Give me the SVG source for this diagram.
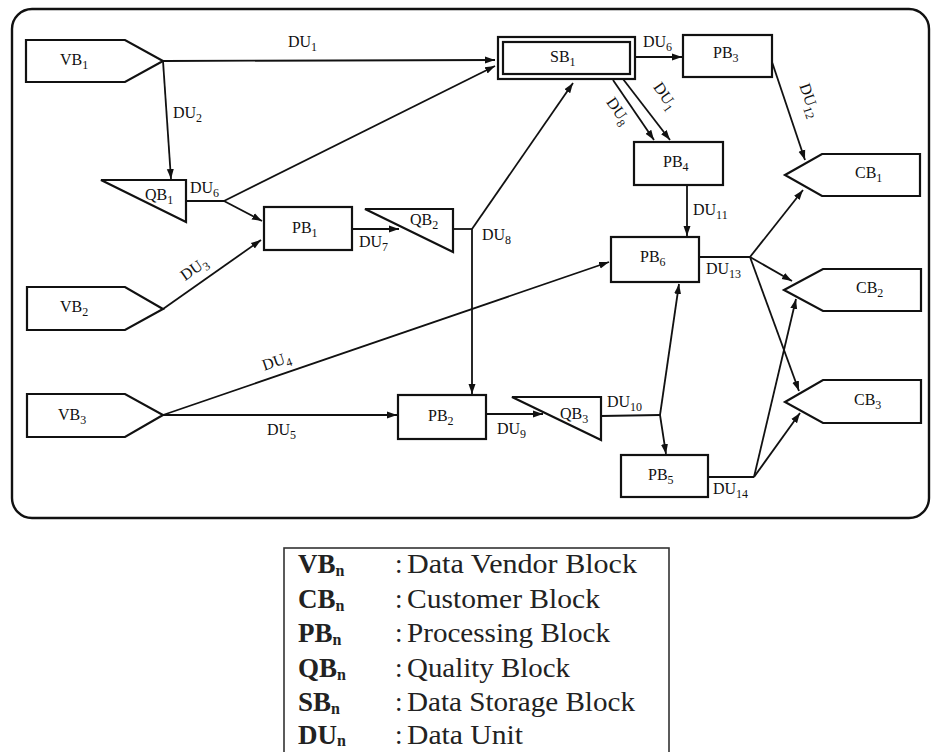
<svg xmlns="http://www.w3.org/2000/svg" width="932" height="752" viewBox="0 0 932 752">
<defs>
<marker id="ah" viewBox="0 0 10 10" refX="10" refY="5" markerWidth="10" markerHeight="10" markerUnits="userSpaceOnUse" orient="auto">
<path d="M0,1.5 L10,5 L0,8.5 Z" fill="#111"/>
</marker>
</defs>
<style>
.shape{fill:#fff;stroke:#111;stroke-width:2.2;stroke-linejoin:miter}
.lbl{font-family:"Liberation Serif","Times New Roman",serif;font-size:16px;fill:#111}
.sub{font-size:12px}
.conn line,.conn polyline{stroke:#111;stroke-width:1.8;fill:none}
.arr{marker-end:url(#ah)}
.leg{font-family:"Liberation Serif","Times New Roman",serif;font-size:27px;fill:#222}
.legb{font-weight:bold}
</style>
<rect width="932" height="752" fill="#fff"/>
<rect x="12" y="9" width="917" height="509" rx="20" fill="none" stroke="#111" stroke-width="2.4"/>

<g class="conn" id="connectors">
<line class="arr" x1="163" y1="61" x2="495" y2="60"/>
<line class="arr" x1="163" y1="61" x2="171" y2="179"/>
<polyline points="186,201 224,201"/>
<line class="arr" x1="224" y1="201" x2="495" y2="66"/>
<line class="arr" x1="224" y1="201" x2="262" y2="221"/>
<line class="arr" x1="163" y1="309" x2="261" y2="240"/>
<line class="arr" x1="352" y1="229" x2="399" y2="229"/>
<polyline points="453,229 472,229"/>
<line class="arr" x1="472" y1="229" x2="472" y2="394"/>
<line class="arr" x1="472" y1="229" x2="573" y2="83"/>
<line class="arr" x1="163" y1="415" x2="609" y2="262"/>
<line class="arr" x1="163" y1="415" x2="397" y2="415"/>
<line class="arr" x1="486" y1="414" x2="543" y2="414"/>
<polyline points="601,416 660,415"/>
<line class="arr" x1="660" y1="415" x2="679" y2="284"/>
<line class="arr" x1="660" y1="415" x2="666" y2="454"/>
<line class="arr" x1="635" y1="57" x2="682" y2="57"/>
<line class="arr" x1="613" y1="80" x2="654" y2="140"/>
<line class="arr" x1="623" y1="79" x2="670" y2="140"/>
<line class="arr" x1="772" y1="62" x2="805" y2="160"/>
<line class="arr" x1="687" y1="185" x2="687" y2="236"/>
<polyline points="699,257 750,257"/>
<line class="arr" x1="750" y1="257" x2="803" y2="190"/>
<line class="arr" x1="750" y1="257" x2="792" y2="281"/>
<line class="arr" x1="750" y1="257" x2="799" y2="391"/>
<polyline points="708,477 754,477"/>
<line class="arr" x1="754" y1="477" x2="796" y2="299"/>
<line class="arr" x1="754" y1="477" x2="800" y2="413"/>

<text class="lbl" x="288" y="47">DU<tspan class="sub" dy="4">1</tspan></text>
<text class="lbl" x="173" y="118">DU<tspan class="sub" dy="4">2</tspan></text>
<text class="lbl" x="190" y="193">DU<tspan class="sub" dy="4">6</tspan></text>
<text class="lbl" text-anchor="middle" transform="translate(197,273) rotate(-35)">DU<tspan class="sub" dy="4">3</tspan></text>
<text class="lbl" text-anchor="middle" transform="translate(278,366) rotate(-19)">DU<tspan class="sub" dy="4">4</tspan></text>
<text class="lbl" x="267" y="435">DU<tspan class="sub" dy="4">5</tspan></text>
<text class="lbl" x="359" y="247">DU<tspan class="sub" dy="4">7</tspan></text>
<text class="lbl" x="482" y="240">DU<tspan class="sub" dy="4">8</tspan></text>
<text class="lbl" x="497" y="434">DU<tspan class="sub" dy="4">9</tspan></text>
<text class="lbl" x="607" y="407">DU<tspan class="sub" dy="4">10</tspan></text>
<text class="lbl" x="643" y="47">DU<tspan class="sub" dy="4">6</tspan></text>
<text class="lbl" text-anchor="middle" transform="translate(614,114) rotate(55)">DU<tspan class="sub" dy="4">8</tspan></text>
<text class="lbl" text-anchor="middle" transform="translate(661,99) rotate(55)">DU<tspan class="sub" dy="4">1</tspan></text>
<text class="lbl" text-anchor="middle" transform="translate(805,102) rotate(71)">DU<tspan class="sub" dy="4">12</tspan></text>
<text class="lbl" x="693" y="215">DU<tspan class="sub" dy="4">11</tspan></text>
<text class="lbl" x="706" y="274">DU<tspan class="sub" dy="4">13</tspan></text>
<text class="lbl" x="713" y="494">DU<tspan class="sub" dy="4">14</tspan></text>
</g>

<g id="VB1"><polygon class="shape" points="26,40 125,40 163,61 125,82 26,82"/><text class="lbl" x="60" y="65">VB<tspan class="sub" dy="4">1</tspan></text></g>
<g id="VB2"><polygon class="shape" points="27,287 125,287 163,309 125,330 27,330"/><text class="lbl" x="60" y="312">VB<tspan class="sub" dy="4">2</tspan></text></g>
<g id="VB3"><polygon class="shape" points="27,394 125,394 163,415 125,437 27,437"/><text class="lbl" x="58" y="420">VB<tspan class="sub" dy="4">3</tspan></text></g>
<g id="QB1"><polygon class="shape" points="101,180 186,180 186,222"/><text class="lbl" x="145" y="200">QB<tspan class="sub" dy="4">1</tspan></text></g>
<g id="QB2"><polygon class="shape" points="365,209 453,209 453,252"/><text class="lbl" x="410" y="225">QB<tspan class="sub" dy="4">2</tspan></text></g>
<g id="QB3"><polygon class="shape" points="512,397 601,397 601,440"/><text class="lbl" x="560" y="419">QB<tspan class="sub" dy="4">3</tspan></text></g>
<g id="PB1"><rect class="shape" x="264" y="207" width="88" height="43"/><text class="lbl" x="292" y="233">PB<tspan class="sub" dy="4">1</tspan></text></g>
<g id="PB2"><rect class="shape" x="398" y="395" width="88" height="44"/><text class="lbl" x="428" y="421">PB<tspan class="sub" dy="4">2</tspan></text></g>
<g id="PB3"><rect class="shape" x="683" y="35" width="89" height="42"/><text class="lbl" x="713" y="58">PB<tspan class="sub" dy="4">3</tspan></text></g>
<g id="PB4"><rect class="shape" x="634" y="142" width="89" height="43"/><text class="lbl" x="663" y="167">PB<tspan class="sub" dy="4">4</tspan></text></g>
<g id="PB5"><rect class="shape" x="621" y="455" width="87" height="42"/><text class="lbl" x="648" y="480">PB<tspan class="sub" dy="4">5</tspan></text></g>
<g id="PB6"><rect class="shape" x="611" y="237" width="88" height="45"/><text class="lbl" x="640" y="262">PB<tspan class="sub" dy="4">6</tspan></text></g>
<g id="SB1"><rect class="shape" x="498" y="37" width="137" height="42"/><rect class="shape" x="503" y="42" width="127" height="32" stroke-width="1.8"/><text class="lbl" x="550" y="62">SB<tspan class="sub" dy="4">1</tspan></text></g>
<g id="CB1"><polygon class="shape" points="785,175 822,154 920,154 920,196 822,196"/><text class="lbl" x="855" y="178">CB<tspan class="sub" dy="4">1</tspan></text></g>
<g id="CB2"><polygon class="shape" points="784,290 823,269 921,269 921,311 823,311"/><text class="lbl" x="856" y="293">CB<tspan class="sub" dy="4">2</tspan></text></g>
<g id="CB3"><polygon class="shape" points="785,402 823,380 921,380 921,423 823,423"/><text class="lbl" x="854" y="405">CB<tspan class="sub" dy="4">3</tspan></text></g>

<g id="legend">
<rect x="284" y="548" width="385" height="215" fill="#fff" stroke="#333" stroke-width="1.6"/>
<text class="leg legb" x="298" y="573">VB<tspan font-size="16" dy="3">n</tspan></text>
<text class="leg legb" x="298" y="607.5">CB<tspan font-size="16" dy="3">n</tspan></text>
<text class="leg legb" x="298" y="642">PB<tspan font-size="16" dy="3">n</tspan></text>
<text class="leg legb" x="298" y="676.5">QB<tspan font-size="16" dy="3">n</tspan></text>
<text class="leg legb" x="298" y="711">SB<tspan font-size="16" dy="3">n</tspan></text>
<text class="leg legb" x="298" y="744">DU<tspan font-size="16" dy="2">n</tspan></text>
<text class="leg" x="395" y="573">:</text>
<text class="leg" x="395" y="607.5">:</text>
<text class="leg" x="395" y="642">:</text>
<text class="leg" x="395" y="676.5">:</text>
<text class="leg" x="395" y="711">:</text>
<text class="leg" x="395" y="744">:</text>
<text class="leg" x="407" y="573" textLength="230" lengthAdjust="spacingAndGlyphs">Data Vendor Block</text>
<text class="leg" x="407" y="607.5" textLength="193" lengthAdjust="spacingAndGlyphs">Customer Block</text>
<text class="leg" x="407" y="642" textLength="203" lengthAdjust="spacingAndGlyphs">Processing  Block</text>
<text class="leg" x="407" y="676.5" textLength="163" lengthAdjust="spacingAndGlyphs">Quality Block</text>
<text class="leg" x="407" y="711" textLength="228" lengthAdjust="spacingAndGlyphs">Data Storage Block</text>
<text class="leg" x="407" y="744" textLength="116" lengthAdjust="spacingAndGlyphs">Data Unit</text>
</g>
</svg>
